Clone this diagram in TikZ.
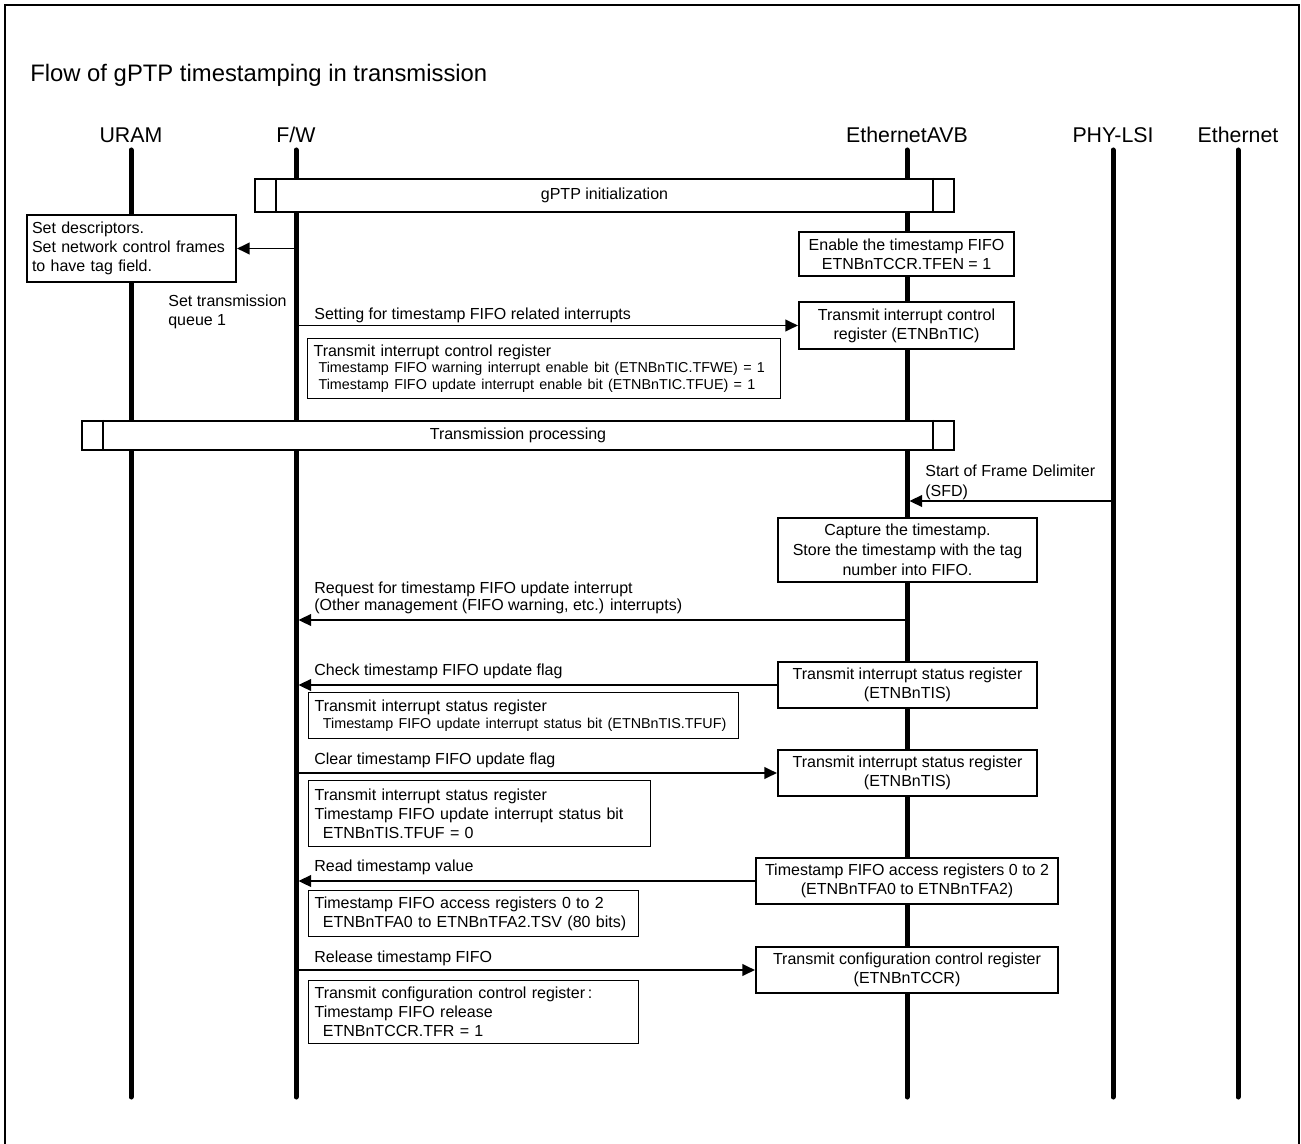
\documentclass[tikz,border=0pt]{standalone}
\usepackage{fontspec}
\setmainfont{Liberation Sans}
\usetikzlibrary{arrows.meta,positioning,calc}
\newcommand{\fbody}{\fontsize{9.6}{11.4}\selectfont}
\newcommand{\fsmall}{\fontsize{8.6}{10}\selectfont}
\newcommand{\ftitle}{\fontsize{14.3}{17}\selectfont}
\newcommand{\fhead}{\fontsize{12.8}{15}\selectfont}

\begin{document}
\begin{tikzpicture}[x=0.6pt,y=-0.6pt,>={Triangle[length=7.5pt,width=7pt]},every node/.style={font=\fbody,inner sep=0pt},life/.style={line width=3pt,line cap=round},msg/.style={->,line width=1pt},reg/.style={draw,line width=1.3pt,fill=white,align=center},memo/.style={draw,line width=0.7pt,fill=white,align=left,anchor=north west,inner xsep=3.6pt},bar/.style={draw,line width=1.3pt,fill=white},lbl/.style={anchor=west,align=left}]
\useasboundingbox (0,0) rectangle (1301,1144);
\draw[line width=1.2pt] (5,1144) |- (1299,5) -- (1299,1144);
\node[anchor=west,font=\ftitle] (title) at (30,75) {Flow of gPTP timestamping in transmission};
\node[font=\fhead] (uram) at (131,135) {URAM};
\node[font=\fhead] (fw) at (296,135) {F/W};
\node[font=\fhead] (avb) at (907,135) {EthernetAVB};
\node[font=\fhead] (phy) at (1113,135) {PHY-LSI};
\node[font=\fhead] (eth) at (1238,135) {Ethernet};
\coordinate (top) at (0,150);\coordinate (bot) at (0,1097);
\foreach \n in {uram,fw,avb,phy,eth} \draw[life] (\n |- top) -- (\n |- bot);
\node[bar,minimum width=419.4pt,minimum height=19.8pt] (init) at (604.5,195.5) {gPTP initialization};
\draw[line width=1.3pt] ($(init.north west)+(22,0)$) -- ($(init.south west)+(22,0)$);
\draw[line width=1.3pt] ($(init.north east)+(-22,0)$) -- ($(init.south east)+(-22,0)$);
\node[bar,minimum width=523.2pt,minimum height=17.4pt] (txp) at (518,435.5) {Transmission processing};
\draw[line width=1.3pt] ($(txp.north west)+(22,0)$) -- ($(txp.south west)+(22,0)$);
\draw[line width=1.3pt] ($(txp.north east)+(-22,0)$) -- ($(txp.south east)+(-22,0)$);
\node[reg,align=left,text width=119.4pt,inner xsep=3pt,minimum height=40.2pt] (desc) at (131.5,248.5) {Set descriptors.\\Set network control frames\\to have tag field.};
\node[reg,minimum width=129pt,minimum height=26.4pt] (enable) at (906.5,254) {Enable the timestamp FIFO\\ETNBnTCCR.TFEN = 1};
\node[reg,minimum width=129pt,minimum height=28.2pt] (tic) at (906.5,325.5) {Transmit interrupt control\\register (ETNBnTIC)};
\node[reg,minimum width=155.4pt,minimum height=38.4pt,font=\fontsize{9.6}{12}\selectfont] (capture) at (907.5,550) {Capture the timestamp.\\Store the timestamp with the tag\\number into FIFO.};
\node[reg,minimum width=155.4pt,minimum height=27.6pt] (tisa) at (907.5,685) {Transmit interrupt status register\\(ETNBnTIS)};
\node[reg,minimum width=155.4pt,minimum height=27.6pt] (tisb) at (907.5,773) {Transmit interrupt status register\\(ETNBnTIS)};
\node[reg,minimum width=181.2pt,minimum height=27.6pt] (tfa) at (907,881) {Timestamp FIFO access registers 0 to 2\\(ETNBnTFA0 to ETNBnTFA2)};
\node[reg,minimum width=181.2pt,minimum height=27.6pt] (tccr) at (907,970) {Transmit configuration control register\\(ETNBnTCCR)};
\node[memo,text width=276.6pt,minimum height=36pt,font=\fontsize{9.6}{10}\selectfont] (ticnote) at (307,338) {Transmit interrupt control register\\{\fsmall\hspace*{3pt}Timestamp FIFO warning interrupt enable bit (ETNBnTIC.TFWE) = 1}\\{\fsmall\hspace*{3pt}Timestamp FIFO update interrupt enable bit (ETNBnTIC.TFUE) = 1}};
\node[memo,text width=250.8pt,minimum height=27.6pt,font=\fontsize{9.6}{10.6}\selectfont] (tisanote) at (308,692) {Transmit interrupt status register\\{\fsmall\hspace*{5pt}Timestamp FIFO update interrupt status bit (ETNBnTIS.TFUF)}};
\node[memo,text width=198pt,minimum height=39.6pt] (tisbnote) at (308,780) {Transmit interrupt status register\\Timestamp FIFO update interrupt status bit\\\hspace*{5pt}ETNBnTIS.TFUF = 0};
\node[memo,text width=190.8pt,minimum height=27.6pt] (tfanote) at (308,890) {Timestamp FIFO access registers 0 to 2\\\hspace*{5pt}ETNBnTFA0 to ETNBnTFA2.TSV (80 bits)};
\node[memo,text width=190.8pt,minimum height=37.8pt] (tccrnote) at (308,980) {Transmit configuration control register\,:\\Timestamp FIFO release\\\hspace*{5pt}ETNBnTCCR.TFR = 1};
\node[lbl] (qlbl) at (168,312) {Set transmission\\queue 1};
\node[lbl] (setlbl) at (314,315) {Setting for timestamp FIFO related interrupts};
\node[lbl,font=\fontsize{9.6}{12}\selectfont] (sfdlbl) at (925,482) {Start of Frame Delimiter\\(SFD)};
\node[lbl,font=\fontsize{9.6}{10}\selectfont] (reqlbl) at (314,598) {Request for timestamp FIFO update interrupt\\(Other management (FIFO warning, etc.) interrupts)};
\node[lbl] (chklbl) at (314,671) {Check timestamp FIFO update flag};
\node[lbl] (clrlbl) at (314,760) {Clear timestamp FIFO update flag};
\node[lbl] (rdlbl) at (314,867) {Read timestamp value};
\node[lbl] (rellbl) at (314,958) {Release timestamp FIFO};
\coordinate (sfd) at (907,501);\coordinate (req) at (907,620);
\draw[msg] (fw |- desc.east)--(desc.east);\draw[msg] (fw |- tic.west)--(tic.west);
\draw[msg,shorten >=1.5pt] (phy |- sfd)--(sfd);\draw[msg,shorten >=1.5pt] (req)--(fw |- req);
\draw[msg,shorten >=1.5pt] (tisa.west)--(fw |- tisa.west);\draw[msg] (fw |- tisb.west)--(tisb.west);
\draw[msg,shorten >=1.5pt] (tfa.west)--(fw |- tfa.west);\draw[msg] (fw |- tccr.west)--(tccr.west);
\end{tikzpicture}
\end{document}
